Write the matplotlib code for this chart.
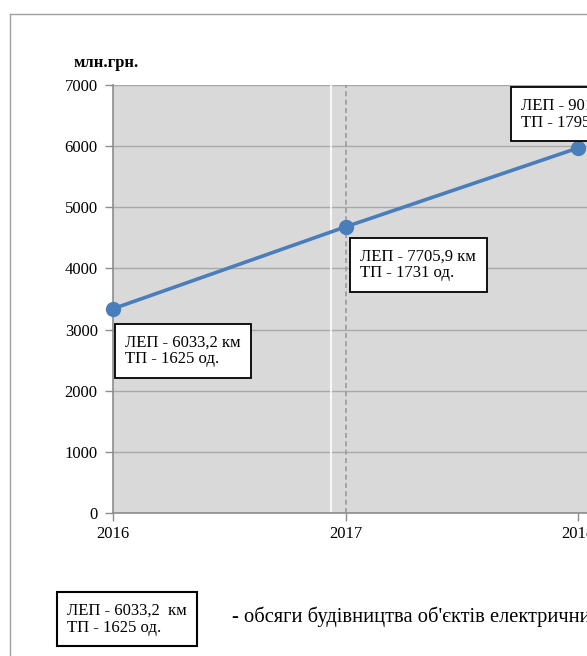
import matplotlib
matplotlib.use("Agg")
import matplotlib.pyplot as plt
from matplotlib.lines import Line2D

plt.rcParams['font.family'] = ['Liberation Serif', 'DejaVu Serif']

years = [2016, 2017, 2018]
values = [3340, 4680, 5970]
lep = ["6033,2", "7705,9", "9015,3"]
tp = ["1625", "1731", "1795"]
yticks = [0, 1000, 2000, 3000, 4000, 5000, 6000, 7000]
xticks = [2016, 2017, 2018]

W, H = 587, 656
fig = plt.figure(figsize=(W / 100, H / 100), dpi=100)
fig.patch.set_facecolor('white')

left, bottom_px, top_px = 113, 513, 85
px_per_year = 232.5
ax = fig.add_axes([left / W, (H - bottom_px) / H, 3 * px_per_year / W, (bottom_px - top_px) / H])
ax.set_xlim(2016, 2019)
ax.set_ylim(0, 7000)
ax.set_facecolor('#d9d9d9')

ax.set_yticks(yticks)
ax.set_yticklabels([str(v) for v in yticks], fontsize=12)
ax.set_xticks(xticks)
ax.set_xticklabels([str(v) for v in xticks], fontsize=12)
ax.tick_params(axis='both', direction='out', length=6, color='#8c8c8c', width=1)
ax.tick_params(axis='y', pad=5)
ax.tick_params(axis='x', pad=3)
for s in ['top', 'right']:
    ax.spines[s].set_visible(False)
for s in ['left', 'bottom']:
    ax.spines[s].set_color('#8c8c8c')
    ax.spines[s].set_linewidth(1.2)

ax.yaxis.grid(True, color='#a8a8a8', linewidth=1)
ax.set_axisbelow(True)

ax.axvline(2017 - 15 / px_per_year, color='white', linewidth=1.2, zorder=1)
ax.axvline(2017, color='#9a9a9a', linewidth=1.2, linestyle=(0, (3, 2)), zorder=1)

ax.plot(years, values, color='#4a7ebb', linewidth=2.6, marker='o', markersize=10,
        markerfacecolor='#4a7ebb', markeredgecolor='#4a7ebb', zorder=3, clip_on=False)

offsets = [(12, -42), (15, -38), (-57, 34)]
for x, v, l, t, off in zip(years, values, lep, tp, offsets):
    ax.annotate(f"ЛЕП - {l} км\nТП - {t} од.", xy=(x, v), xycoords='data',
                xytext=off, textcoords='offset pixels', ha='left', va='center',
                fontsize=12, linespacing=1.1, zorder=5, annotation_clip=False,
                bbox=dict(boxstyle='square,pad=0.62', facecolor='white',
                          edgecolor='black', linewidth=1.3))

fig.text(106 / W, 1 - 63 / H, "млн.грн.", fontsize=12, fontweight='bold',
         ha='center', va='center')

fig.text(67 / W, 1 - 619 / H, "ЛЕП - 6033,2  км\nТП - 1625 од.", fontsize=12,
         ha='left', va='center', linespacing=1.1,
         bbox=dict(boxstyle='square,pad=0.6', facecolor='white', edgecolor='black',
                   linewidth=1.5))
fig.text(232 / W, 1 - 617 / H, "- обсяги будівництва об'єктів електричних мереж",
         fontsize=14.8, ha='left', va='center')

fig.add_artist(Line2D([10 / W, 1.0], [1 - 14 / H, 1 - 14 / H], color='#a0a0a0',
                      linewidth=1, transform=fig.transFigure))
fig.add_artist(Line2D([10 / W, 10 / W], [1 - 14 / H, 0], color='#a0a0a0',
                      linewidth=1, transform=fig.transFigure))

fig.savefig("out.png", dpi=100)
